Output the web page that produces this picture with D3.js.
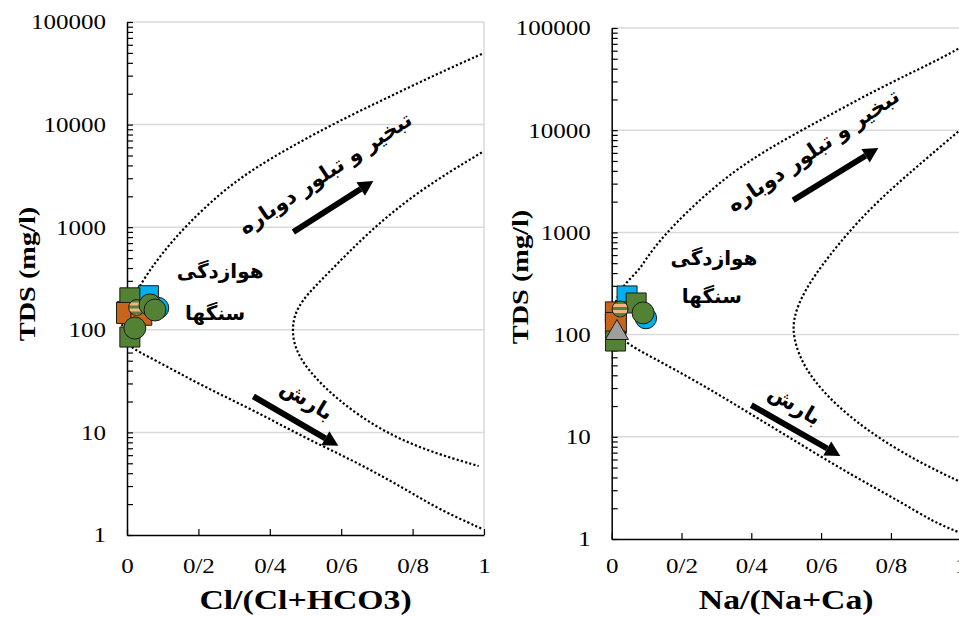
<!DOCTYPE html>
<html>
<head>
<meta charset="utf-8">
<script src="https://cdn.jsdelivr.net/npm/d3@7"></script>
<style>
  body { margin: 0; background: #fff; }
  svg { display: block; }
  .serif { font-family: "Liberation Serif", "DejaVu Serif", serif; }
  .farsi { font-family: "DejaVu Sans", sans-serif; }
</style>
</head>
<body>
<svg id="chart" width="959" height="617"></svg>
<script>
// *******************
// Data
// *******************

const yTickValues = [1, 10, 100, 1000, 10000, 100000];
const yTickLabels = ["1", "10", "100", "1000", "10000", "100000"];
const xTickValues = [0, 0.2, 0.4, 0.6, 0.8, 1];
const xTickLabels = ["0", "0/2", "0/4", "0/6", "0/8", "1"];
const xTitles = ["Cl/(Cl+HCO3)", "Na/(Na+Ca)"];
const yTitle = "TDS (mg/l)";
const zoneLabels = ["تبخیر و تبلور دوباره", "هوازدگی", "سنگها", "بارش"];

// Gibbs boundaries [ratio, TDS], outer "<" from top right to bottom right
const outerCl = [
  [0.994, 48800], [0.868, 31100], [0.728, 18200], [0.588, 10600],
  [0.465, 6240], [0.353, 3690], [0.261, 2150], [0.167, 1050],
  [0.102, 580], [0.045, 310], [-0.01, 140], [-0.016, 100],
  [-0.006, 71], [0.078, 51], [0.214, 28], [0.354, 16.5],
  [0.494, 9], [0.635, 5.3], [0.775, 2.87], [0.868, 1.82], [0.994, 1.15]
];
const innerCl = [
  [0.994, 5360], [0.821, 2320], [0.681, 933], [0.56, 347], [0.485, 189],
  [0.462, 119], [0.466, 70], [0.504, 41], [0.588, 20.8], [0.709, 10.5],
  [0.84, 6.6], [0.985, 4.7]
];
const outerNa = [
  [0.993, 62600], [0.922, 46100], [0.778, 27000], [0.635, 14700],
  [0.492, 8010], [0.348, 4040], [0.205, 1500], [0.11, 650],
  [0.081, 429], [0.032, 306], [0.01, 208], [-0.006, 130],
  [0.032, 85], [0.11, 61.5], [0.253, 33.4], [0.396, 16.9],
  [0.54, 8.5], [0.683, 4.3], [0.826, 2.33], [0.922, 1.47], [0.993, 1.17]
];
const innerNa = [
  [0.993, 9690], [0.873, 4370], [0.73, 1620], [0.616, 560], [0.549, 261],
  [0.519, 142], [0.521, 90], [0.549, 49], [0.616, 24.6], [0.73, 11.5],
  [0.873, 5.8], [0.993, 3.7]
];

// process arrows [from, to]
const arrowsCl = [
  [[0.466, 898], [0.69, 2820]],
  [[0.354, 22.4], [0.592, 7.4]]
];
const arrowsNa = [
  [[0.52, 2065], [0.764, 6710]],
  [[0.4, 20.4], [0.655, 6.5]]
];

// sample groups and samples [group, ratio, TDS], listed back to front
const groups = ["blueSq", "greenSq", "orangeSq", "stripeCirc", "blueCirc", "greenCirc", "grayTri"];
const samplesCl = [
  ["blueSq", 0.0, 150], ["blueSq", 0.06, 215],
  ["greenSq", 0.008, 205], ["greenSq", 0.008, 85],
  ["orangeSq", 0.0, 146], ["orangeSq", 0.04, 140],
  ["stripeCirc", 0.027, 165],
  ["blueCirc", 0.087, 163],
  ["greenCirc", 0.0645, 175], ["greenCirc", 0.0785, 156], ["greenCirc", 0.022, 104]
];
const samplesNa = [
  ["blueSq", 0.044, 239],
  ["greenSq", 0.07, 204],
  ["orangeSq", 0.012, 165], ["orangeSq", 0.012, 130],
  ["greenSq", 0.011, 86.5],
  ["blueCirc", 0.098, 145],
  ["greenCirc", 0.09, 163],
  ["stripeCirc", 0.024, 178],
  ["grayTri", 0.015, 104]
];

// *******************
// Styles
// *******************

const markerStyle = {
  blueSq:     { shape: d3.symbolSquare,   size: 400, fill: "#00B0F0" },
  greenSq:    { shape: d3.symbolSquare,   size: 400, fill: "#548235" },
  orangeSq:   { shape: d3.symbolSquare,   size: 440, fill: "#C8651B" },
  stripeCirc: { shape: d3.symbolCircle,   size: 200, fill: "url(#stripes)" },
  blueCirc:   { shape: d3.symbolCircle,   size: 360, fill: "#00B0F0" },
  greenCirc:  { shape: d3.symbolCircle,   size: 380, fill: "#548235" },
  grayTri:    { shape: d3.symbolTriangle, size: 230, fill: "#9E9E9E" }
};

const svg = d3.select("#chart");
svg.append("rect").attr("width", 959).attr("height", 617).attr("fill", "#fff");

const defs = svg.append("defs");
const stripes = defs.append("pattern")
  .attr("id", "stripes")
  .attr("patternUnits", "userSpaceOnUse")
  .attr("width", 6).attr("height", 6);
stripes.append("rect").attr("width", 6).attr("height", 6).attr("fill", "#548235");
stripes.append("rect").attr("y", 1).attr("width", 6).attr("height", 3).attr("fill", "#F4B183");

const STRETCH = 1.25; // the figure's lettering is stretched sideways

function drawArrow(g, x, y, a) {
  const [x1, y1] = [x(a[0][0]), y(a[0][1])];
  const [x2, y2] = [x(a[1][0]), y(a[1][1])];
  const ang = Math.atan2(y2 - y1, x2 - x1);
  const headLen = 15, headHalf = 8;
  const bx = x2 - headLen * Math.cos(ang), by = y2 - headLen * Math.sin(ang);
  g.append("line")
    .attr("x1", x1).attr("y1", y1).attr("x2", bx).attr("y2", by)
    .attr("stroke", "#000").attr("stroke-width", 6);
  const nx = -Math.sin(ang) * headHalf, ny = Math.cos(ang) * headHalf;
  g.append("path")
    .attr("d", `M${x2},${y2}L${bx + nx},${by + ny}L${bx - nx},${by - ny}Z`)
    .attr("fill", "#000");
}

// d3.axis writes its own font attributes, so restyle after the call
function styleAxis(a) {
  a.attr("font-family", null).attr("font-size", null).attr("class", "serif");
  a.select(".domain").attr("stroke", "#000").attr("stroke-width", 1.5);
  a.selectAll(".tick line").attr("stroke", "#000").attr("stroke-width", 1.2);
  a.selectAll(".tick text").attr("fill", "#000").style("font-size", "20px");
}

function drawPanel(p) {
  const x = d3.scaleLinear().domain([0, 1]).range([p.x0, p.x1]);
  const y = d3.scaleLog().domain([1, 1e5]).range([p.yBot, p.yTop]);
  const g = svg.append("g");

  // decade gridlines and light right border
  g.selectAll(".grid")
    .data(yTickValues.slice(1))
    .join("line")
    .attr("x1", p.x0).attr("x2", p.x1)
    .attr("y1", (d) => y(d)).attr("y2", (d) => y(d))
    .attr("stroke", "#d9d9d9").attr("stroke-width", 1.5);
  g.append("line")
    .attr("x1", p.x1).attr("x2", p.x1)
    .attr("y1", y(1e5)).attr("y2", y(1))
    .attr("stroke", "#d9d9d9").attr("stroke-width", 1.5);

  // y axis with log minor ticks pointing inward
  const minor = [];
  yTickValues.slice(0, -1).forEach((d) => {
    for (let k = 2; k <= 9; k++) minor.push(d * k);
  });
  const yAxis = d3.axisLeft(y)
    .tickValues(yTickValues.concat(minor))
    .tickSizeInner(-6).tickSizeOuter(0)
    .tickFormat((d) => {
      const i = yTickValues.indexOf(d);
      return i < 0 ? "" : yTickLabels[i];
    });
  g.append("g")
    .attr("transform", `translate(${p.x0},0)`)
    .call(yAxis)
    .call(styleAxis)
    .call((a) => a.selectAll(".tick text")
      .attr("x", 0).attr("dy", "0.34em").attr("text-anchor", "end")
      .attr("transform", `translate(-21,0) scale(${STRETCH},1)`));

  // x axis
  const xAxis = d3.axisBottom(x)
    .tickValues(xTickValues)
    .tickSizeInner(-6).tickSizeOuter(0)
    .tickFormat((d, i) => xTickLabels[i]);
  g.append("g")
    .attr("transform", `translate(0,${p.yBot})`)
    .call(xAxis)
    .call(styleAxis)
    .call((a) => a.selectAll(".tick text")
      .attr("y", 0).attr("dy", null)
      .attr("transform", `translate(0,${573 - p.yBot}) scale(${STRETCH},1)`));

  // axis titles
  g.append("text")
    .attr("class", "serif")
    .attr("transform", `translate(${(p.x0 + p.x1) / 2},609) scale(${STRETCH},1)`)
    .attr("text-anchor", "middle")
    .style("font-weight", "bold").style("font-size", "27px")
    .text(p.title);
  g.append("text")
    .attr("class", "serif")
    .attr("transform", `translate(${p.yTitleX},${p.yTitleY}) rotate(-90) scale(1.18,1)`)
    .attr("text-anchor", "middle").attr("dy", "0.35em")
    .style("font-weight", "bold").style("font-size", "24px")
    .text(yTitle);

  // Gibbs boundaries
  const line = d3.line()
    .x((d) => x(d[0])).y((d) => y(d[1]))
    .curve(d3.curveBasis);
  [p.outer, p.inner].forEach((c) => {
    g.append("path")
      .attr("d", line(c))
      .attr("fill", "none").attr("stroke", "#000")
      .attr("stroke-width", 2.2).attr("stroke-dasharray", "2.2,2.2");
  });

  // arrows
  p.arrows.forEach((a) => drawArrow(g, x, y, a));

  // zone labels
  p.labels.forEach((l) => {
    g.append("text")
      .attr("class", "farsi")
      .attr("transform", `translate(${x(l.at[0])},${y(l.at[1])}) rotate(${l.rot || 0})`)
      .attr("text-anchor", "middle").attr("dy", "0.35em")
      .attr("direction", "rtl")
      .style("font-weight", l.bold ? "bold" : "normal")
      .style("font-size", l.size + "px")
      .text(zoneLabels[l.text]);
  });

  // samples
  g.selectAll(".pt")
    .data(p.samples)
    .join("path")
    .attr("transform", (d) => `translate(${x(d[1])},${y(d[2])})`)
    .attr("d", (d) => d3.symbol(markerStyle[d[0]].shape, markerStyle[d[0]].size)())
    .attr("fill", (d) => markerStyle[d[0]].fill)
    .attr("stroke", "#1a1a1a").attr("stroke-width", 1);
}

drawPanel({
  x0: 127, x1: 484, yTop: 22, yBot: 535, yTitleX: 27, yTitleY: 274,
  title: xTitles[0], outer: outerCl, inner: innerCl, arrows: arrowsCl, samples: samplesCl,
  labels: [
    { text: 0, at: [0.555, 3375], rot: -33.6, size: 21, bold: true },
    { text: 1, at: [0.261, 374], size: 20, bold: true },
    { text: 2, at: [0.247, 146], size: 20, bold: true },
    { text: 3, at: [0.504, 20.8], rot: 31, size: 21, bold: true }
  ]
});

drawPanel({
  x0: 611.7, x1: 960.7, yTop: 28, yBot: 539, yTitleX: 520, yTitleY: 277,
  title: xTitles[1], outer: outerNa, inner: innerNa, arrows: arrowsNa, samples: samplesNa,
  labels: [
    { text: 0, at: [0.577, 6400], rot: -34, size: 21, bold: true },
    { text: 1, at: [0.293, 561], size: 20, bold: true },
    { text: 2, at: [0.287, 239], size: 20, bold: true },
    { text: 3, at: [0.525, 20.5], rot: 31, size: 21, bold: true }
  ]
});
</script>
</body>
</html>
